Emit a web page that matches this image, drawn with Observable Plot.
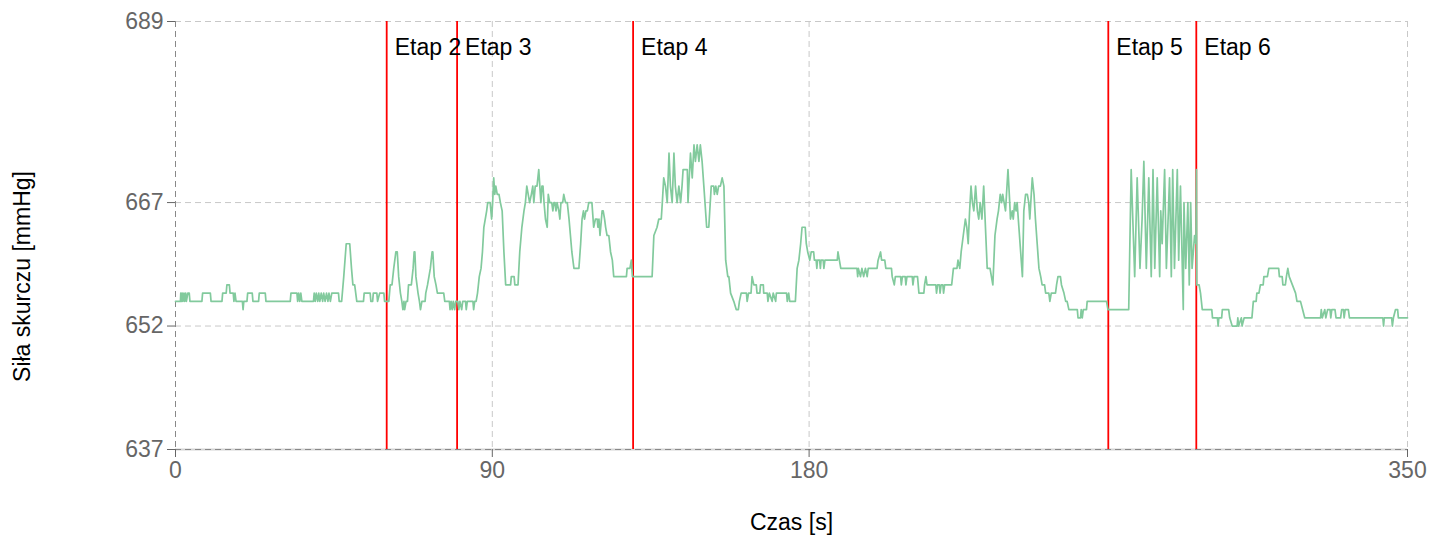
<!DOCTYPE html>
<html><head><meta charset="utf-8">
<script src="https://cdn.jsdelivr.net/npm/d3@7"></script>
<script src="https://cdn.jsdelivr.net/npm/@observablehq/plot@0.6"></script>
<style>body{margin:0;background:#fff;}</style>
</head><body><div id="chart"></div>
<script>
// [time s, force mmHg], per stage
const stage1 = [[0,655],[1.4,655],[1.5,656],[1.7,655],[1.9,656],[2.1,655],[2.4,656],[2.6,655],[2.9,656],[3.1,655],[3.5,656],[3.9,656],[4.1,655],
[7.5,655],[7.7,656],[9.9,656],[10.1,655],
[13.2,655],[13.4,656],[14.4,656],[14.6,657],[15.3,657],[15.5,656],[16.4,656],[16.6,655],[16.9,656],[17.2,655],[17.5,655],
[19.0,655],[19.2,654],[19.4,655],[20.3,655],[20.5,656],[21.8,656],[22.0,655],[23.6,655],[23.8,656],[25.5,656],[25.7,655],
[32.6,655],[32.8,656],[34.5,656],[34.7,655],[35.0,656],[35.3,655],[35.6,656],[35.9,655],
[39.2,655],[39.4,656],[39.7,655],[40.0,656],[40.4,655],[40.7,656],[41.0,655],[41.4,656],[41.8,655],[42.1,656],[42.5,655],[42.9,656],[43.3,655],[43.6,656],[44.0,655],[44.4,656],[46.3,656],[46.5,655],[47.2,655],
[47.8,658],[48.5,662],[49.5,662],[50.0,659],[50.4,657],[50.9,657],[51.5,655],[53.4,655],[53.6,656],[55.3,656],[55.5,655],[56.0,655],[56.2,656],[57.2,656],[57.4,655],[58.0,656],[59.2,656],[59.4,655],[60.6,655]];
const stage2 = [[60.8,656],[61.0,657],[61.5,657],[62.0,659],[62.6,661],[63.0,661],[63.4,658],[63.9,656],[64.3,655],[64.6,654],[64.9,655],[65.1,654],[65.5,655],[65.9,655],[66.2,657],[67.0,657],[67.5,659],[67.8,661],[68.0,661],[68.3,658],[68.6,657],[68.9,656],[69.3,655],[69.6,654],[70.0,655],[70.9,655],[71.1,656],[71.6,657],[72.0,658],[72.4,659],[72.9,661],[73.1,661],[73.5,658],[74.0,657],[74.4,656],[76.2,656],[76.5,655],[77.8,655],[78.0,654],[78.3,655],[78.6,654],[78.9,655],[79.3,654],[79.6,655]];
const stage3 = [[80.2,655],[80.5,654],[80.8,655],[81.3,654],[81.6,655],[82.4,655],[82.6,654],[82.9,655],[84.5,655],[84.7,654],[85.0,655],[85.4,655],[85.8,656],[86.3,658],[86.8,659],[87.2,661],[87.6,664],[88.0,665],[88.4,666],[88.7,667],[89.4,667],[89.8,665],[90.1,667],[90.4,670],[90.7,668],[91.0,669],[91.4,668],[91.9,668],[92.3,667],[92.8,666],[93.3,661],[93.8,657],[95.2,657],[95.4,658],[96.2,658],[96.4,657],[97.3,657],[97.8,661],[98.4,664],[99.0,666],[99.4,667],[99.8,669],[100.2,668],[100.6,667],[101.1,668],[101.5,669],[101.8,667],[102.2,669],[102.7,669],[103.2,671],[103.5,669],[103.8,667],[104.1,669],[104.4,669],[104.7,667],[105.1,665],[105.6,664],[105.9,668],[106.3,667],[106.9,667],[107.2,666],[107.5,667],[107.8,667],[108.1,666],[108.4,667],[108.9,666],[109.2,665],[109.5,667],[110.0,667],[110.3,668],[110.8,667],[111.3,667],[111.8,665],[112.2,663],[112.6,661],[113.2,659],[114.6,659],[115.1,662],[115.5,665],[115.9,666],[116.2,665],[116.6,666],[117.0,666],[117.4,667],[118.3,667],[118.8,664],[119.3,665],[119.8,665],[120.0,664],[120.3,665],[120.6,663],[120.8,664],[121.2,666],[121.5,666],[121.9,665],[122.2,664],[122.6,663],[123.1,663],[123.6,661],[124.1,660],[124.5,658],[128.1,658],[128.3,659],[129.1,659],[129.5,660],[129.8,658]];
const stage4 = [[135.4,658],[135.9,663],[136.8,664],[137.3,665],[138.0,665],[138.3,667],[138.7,670],[139.2,669],[139.7,667],[140.2,673],[140.6,669],[141.1,667],[141.6,673],[142.0,669],[142.5,667],[143.0,669],[143.5,667],[143.9,669],[144.2,671],[145.4,671],[145.6,667],[146.3,673],[146.8,670],[147.3,674],[147.7,672],[148.2,674],[148.7,672],[149.1,674],[149.6,672],[150.1,669],[150.9,664],[151.5,664],[152.2,669],[152.9,669],[153.1,668],[153.5,669],[153.9,668],[154.3,669],[154.8,669],[155.3,670],[155.8,669],[156.3,660],[156.9,658],[157.2,658],[157.7,656],[158.6,655],[159.3,654],[159.9,654],[160.2,655],[160.7,656],[162.2,656],[162.4,655],[162.8,656],[163.5,656],[163.8,658],[164.3,657],[165.0,657],[165.2,656],[166.0,656],[166.2,657],[167.0,657],[167.1,656],[168.1,656],[168.3,655],[168.7,656],[169.5,655],[169.8,656],[170.5,655],[170.7,656],[173.6,656],[173.8,655],[174.2,656],[174.5,655],[176.1,655],[176.6,659],[177.1,660],[177.6,662],[178.0,664],[178.9,664],[179.2,662],[179.6,661],[180.2,660],[180.6,661],[181.3,661],[181.5,660],[182.0,660],[182.2,659],[182.4,660],[183.0,660],[183.2,659],[183.4,660],[184.0,660],[184.2,659],[184.5,660],[188.0,660],[188.2,661],[188.6,660],[189.0,659],[193.6,659],[193.8,658],[194.0,659],[194.6,658],[195.0,659],[195.5,658],[196.0,659],[196.5,658],[196.8,659],[199.3,659],[199.6,660],[200.3,661],[200.6,660],[201.5,660],[201.8,659],[203.4,659],[203.6,658],[204.2,657],[204.5,658],[206.0,658],[206.2,657],[206.5,658],[207.3,658],[207.5,657],[207.8,658],[209.3,658],[209.5,657],[209.8,658],[210.8,658],[211.2,656],[212.6,656],[212.8,657],[213.2,658],[213.5,657],[216.0,657],[216.2,656],[216.5,657],[217.0,657],[217.2,656],[217.5,657],[218.0,657],[218.2,656],[218.5,657],[220.5,657],[221.0,659],[222.0,659],[222.3,660],[222.8,659],[223.2,661],[223.8,663],[224.4,665],[224.8,664],[225.2,662],[225.6,666],[226.0,669],[226.4,667],[226.8,666],[227.3,669],[227.8,666],[228.2,665],[228.6,667],[229.1,665],[229.6,669],[230.2,663],[230.6,659],[231.4,659],[232.2,657],[232.8,663],[233.4,665],[233.8,666],[234.3,668],[234.7,667],[235.0,668],[235.4,667],[235.8,666],[236.5,671],[237.0,667],[237.2,665],[237.7,666],[238.0,665],[238.4,667],[238.8,666],[239.1,667],[239.6,664],[240.1,661],[240.6,658],[241.0,666],[241.5,668],[242.0,668],[242.4,667],[242.7,665],[243.4,670],[243.9,668],[244.3,665],[244.8,662],[245.3,659],[245.8,658],[246.2,657],[246.9,657],[247.2,656],[248.1,656],[248.4,655],[248.8,656],[250.0,656],[250.3,657],[250.7,658],[251.4,658],[251.7,657],[252.4,656],[252.9,655],[253.3,655],[253.8,654],[256.2,654],[256.4,653],[257.1,653],[257.3,654],[257.6,653],[257.9,654],[258.8,654],[259.0,655],[264.5,655],[264.9,654]];
const stage5 = [[270.8,654],[271.5,671],[272.5,658],[273.2,670],[274.0,659],[274.6,665],[275.1,672],[275.8,659],[276.5,670],[277.2,658],[277.7,671],[278.2,659],[278.9,670],[279.6,658],[279.9,666],[280.3,662],[281.0,671],[281.5,659],[282.4,670],[282.9,658],[283.3,671],[283.8,659],[284.6,671],[285.0,660],[285.5,669],[286.3,654],[286.5,667],[287.0,659],[287.6,667],[288.0,657],[288.4,667],[288.8,659],[289.5,663],[289.9,662],[290.05,671]];
const stage6 = [[290.15,657],[290.8,657],[291.2,656],[291.7,654],[294.4,654],[294.6,653],[296.0,653],[296.2,652],[296.4,653],[297.2,653],[297.4,654],[299.2,654],[299.5,653],[300.2,652],[301.6,652],[301.8,653],[302.0,652],[302.8,653],[303.0,652],[303.6,653],[305.8,653],[306.2,655],[307.0,655],[307.2,656],[307.8,656],[308.2,657],[309.0,657],[309.2,658],[310.2,658],[310.6,659],[313.4,659],[313.6,658],[314.4,658],[314.6,657],[315.3,657],[315.6,658],[316.0,659],[316.4,658],[317.3,657],[318.2,656],[318.6,655],[319.6,655],[320.2,654],[320.8,653],[325.3,653],[325.5,654],[325.8,653],[326.5,654],[326.8,653],[327.3,654],[328.0,654],[328.2,653],[328.5,654],[329.4,654],[329.7,653],[331.0,653],[331.3,654],[331.8,654],[332.0,653],[332.3,654],[333.2,654],[333.5,653],[343.0,653],[343.2,652],[343.4,653],[345.5,653],[345.7,652],[346.0,653],[346.6,654],[347.2,654],[347.4,653],[350,653]];

const etapTime = [60, 80, 130, 265, 290];
const etapLabel = ["Etap 2", "Etap 3", "Etap 4", "Etap 5", "Etap 6"];
const xTicks = [0, 90, 180, 350];
const yTicks = [637, 652, 667, 689];
const xTitle = "Czas [s]";
const yTitle = "Siła skurczu [mmHg]";

const data = [...stage1, ...stage2, ...stage3, ...stage4, ...stage5, ...stage6].map(([t, v]) => ({t, v}));
const FS = 23;

const chart = Plot.plot({
  width: 1429, height: 537,
  marginLeft: 175, marginRight: 22, marginTop: 21, marginBottom: 88,
  style: {fontFamily: "'Liberation Sans', Arial, sans-serif", fontSize: FS + "px", background: "#fff", overflow: "visible"},
  x: {domain: [0, 350]},
  y: {domain: [637, 689]},
  marks: [
    Plot.gridX(xTicks, {stroke: "#c8c8c8", strokeOpacity: 1, strokeDasharray: "6 4"}),
    Plot.gridY(yTicks, {stroke: "#c8c8c8", strokeOpacity: 1, strokeDasharray: "6 4"}),
    Plot.ruleY([637], {stroke: "#d4d4d4", strokeWidth: 2}),
    Plot.ruleX([0], {stroke: "#888", strokeDasharray: "6 4"}),
    Plot.ruleY([637], {stroke: "#888", strokeDasharray: "6 4"}),
    Plot.ruleX(etapTime, {stroke: "red", strokeWidth: 1.8}),
    Plot.line(data, {x: "t", y: "v", stroke: "#82ca9d", strokeWidth: 1.7}),
    Plot.text(etapLabel, {x: (d, i) => etapTime[i], y: () => 689, dx: 8, dy: 26, textAnchor: "start", fill: "#000", fontSize: FS}),
    Plot.axisX({ticks: xTicks, tickSize: 8, tickPadding: 4, color: "#666", label: null, fontSize: FS}),
    Plot.axisY({ticks: yTicks, tickSize: 8, tickPadding: 4, color: "#666", label: null, fontSize: FS}),
    Plot.text([xTitle], {frameAnchor: "bottom", dy: 73, lineAnchor: "middle", fill: "#000", fontSize: FS}),
    Plot.text([yTitle], {frameAnchor: "left", dx: -153, dy: 41, rotate: -90, textAnchor: "middle", lineAnchor: "middle", fill: "#000", fontSize: FS})
  ]
});
document.getElementById("chart").append(chart);
</script>
</body></html>
